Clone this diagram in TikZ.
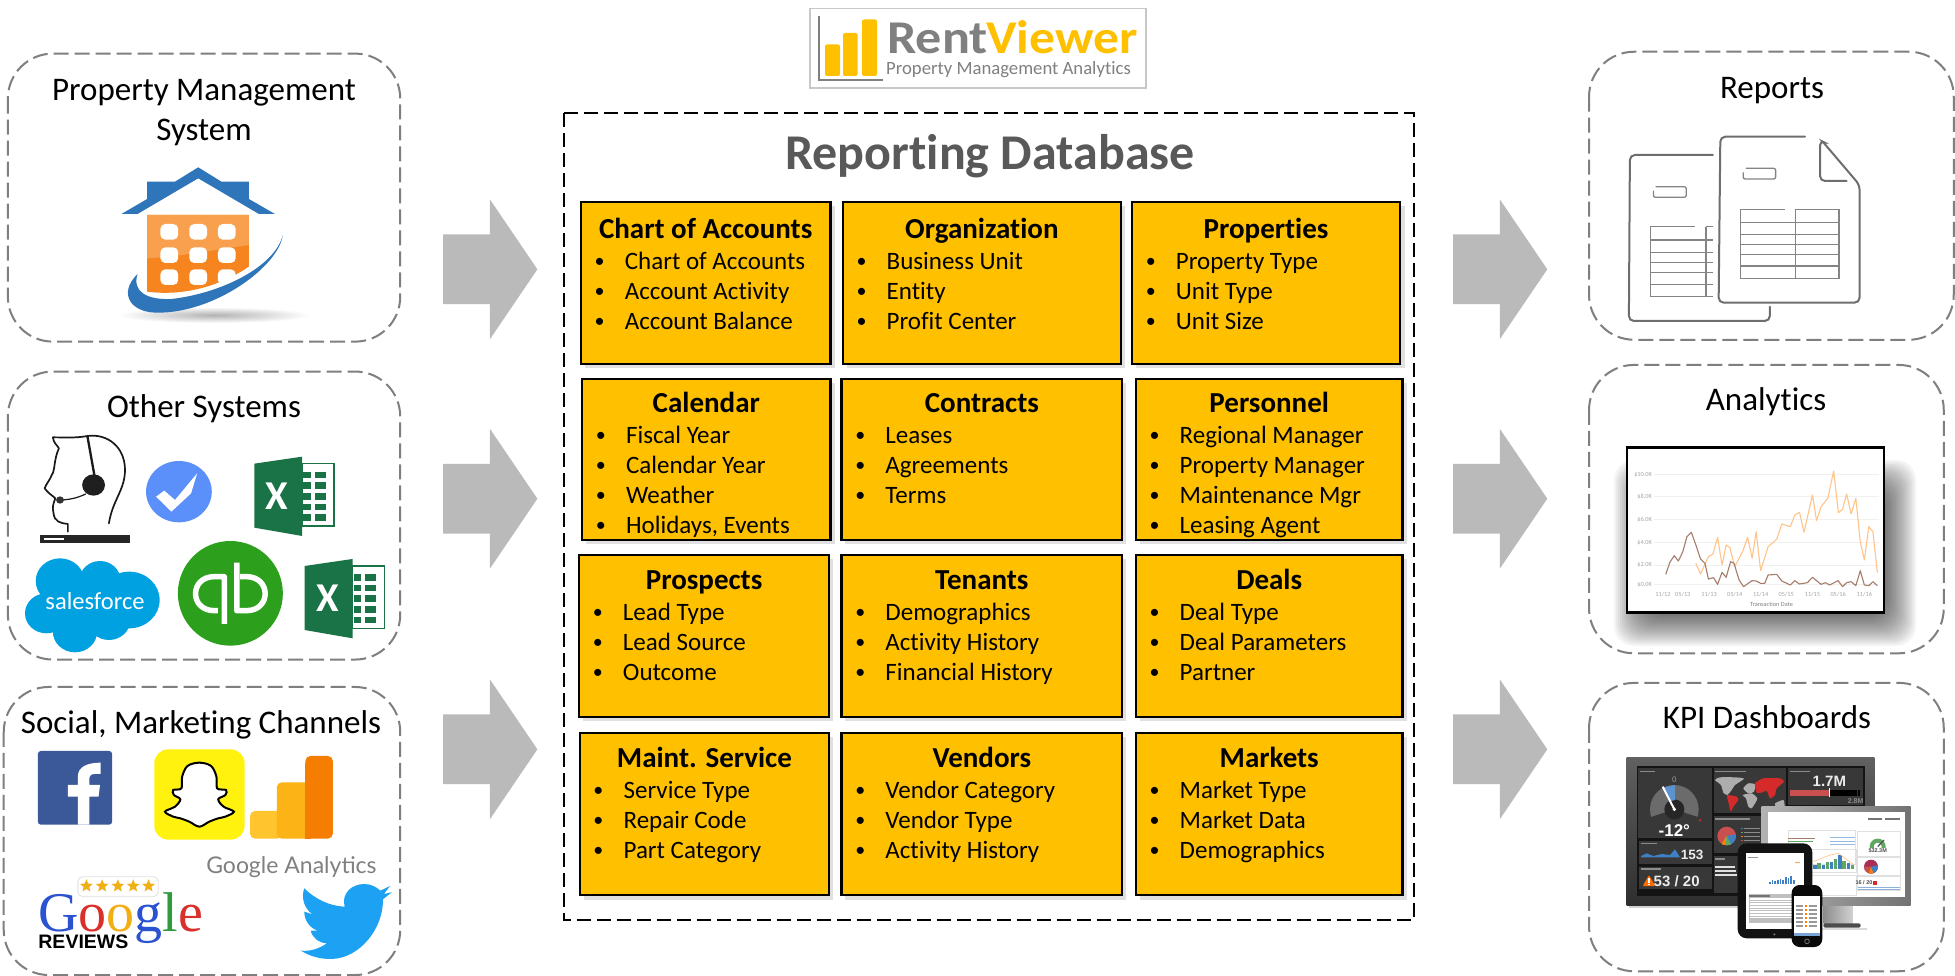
\documentclass[tikz,border=0pt]{standalone}
\usepackage{fontspec}
\setmainfont[Ligatures=NoCommon]{Carlito}
\newfontfamily\arialf{Liberation Sans}
\newfontfamily\timesf{Liberation Serif}
\newfontfamily\gaf{Lato}
\usetikzlibrary{shapes.geometric}
\definecolor{ydb}{HTML}{FFC000}
\definecolor{arrowgrey}{HTML}{BABABA}
\definecolor{dashgrey}{HTML}{7F7F7F}
\definecolor{titlegrey}{HTML}{595959}
\definecolor{logogrey}{HTML}{808080}
\definecolor{houseblue}{HTML}{2E75B9}
\definecolor{orangelt}{HTML}{F9A04F}
\definecolor{orangedk}{HTML}{F6851F}
\definecolor{exgreen}{HTML}{1A7346}
\definecolor{checkblue}{HTML}{5B8FF9}
\definecolor{sfblue}{HTML}{00A1E0}
\definecolor{qbgreen}{HTML}{2CA01C}
\definecolor{fbblue}{HTML}{3B5998}
\definecolor{snapy}{HTML}{FFF20F}
\definecolor{twblue}{HTML}{1DA1F2}
\definecolor{gablue}{HTML}{2A52D1}
\definecolor{gared}{HTML}{D9302C}
\definecolor{gayel}{HTML}{F0B015}
\definecolor{gagreen}{HTML}{2F9B3C}
\definecolor{galeft}{HTML}{FFC42E}
\definecolor{gamid}{HTML}{FBB316}
\definecolor{garight}{HTML}{F57E02}
\definecolor{chartbrown}{HTML}{A67C6B}
\definecolor{chartorange}{HTML}{FFC48A}
\definecolor{docgrey}{HTML}{6E6E6E}
\definecolor{dbblue}{HTML}{3F7FC4}
\definecolor{dbgreen}{HTML}{5FA860}
\definecolor{dbred}{HTML}{C9504F}
\definecolor{mapred}{HTML}{D42A2A}
\tikzset{
  panel/.style={draw=dashgrey,line width=2pt,dash pattern=on 15pt off 6pt,rounded corners=45pt},
  dbframe/.style={draw=black,line width=2pt,dash pattern=on 14pt off 6pt},
  blockarrow/.style={fill=arrowgrey},
  ybody/.style={draw=black,line width=2.4pt,fill=ydb},
  yshadow/.style={fill=black!12},
  headtxt/.style={anchor=base,inner sep=0pt,font=\fontsize{33}{40}\selectfont,text=black},
  ytitle/.style={anchor=base,inner sep=0pt,font=\fontsize{29}{34}\bfseries\selectfont,text=black},
  yitem/.style={anchor=base west,inner sep=0pt,font=\fontsize{25}{30}\selectfont,text=black},
  ybullet/.style={anchor=base,inner sep=0pt,font=\fontsize{20}{30}\selectfont,text=black},
  cropA/.style={x=0.35714pt,y=-0.33333pt},
  cropB/.style={shift={(1420pt,0pt)},x=0.3413pt,y=-0.33333pt},
  cropBB/.style={shift={(1420pt,-480pt)},x=0.3413pt,y=-0.33333pt},
  zoomZ/.style={shift={(1620pt,-750pt)},x=0.33333pt,y=-0.33333pt},
  shown/.style={x=1.2468pt,y=-1.2468pt},
  doc/.style={draw=docgrey,line width=2pt,rounded corners=5pt,line cap=round},
  doctab/.style={draw=docgrey!85,line width=1.3pt},
  tinylabel/.style={inner sep=0pt,font=\fontsize{6.3}{7}\selectfont,text=black!35},
  dashtxt/.style={inner sep=0pt,text=white,font=\arialf\bfseries\fontsize{13.5}{14}\selectfont},
  bpanel/.style={fill=black!78},
}
\newcommand\ybox[8]{%
  \fill[yshadow] (#2+3,#3+3) rectangle (#4+3.5,#5+3.5);
  \draw[ybody] (#2,#3) rectangle (#4,#5);
  \node[ytitle] (#1title) at ({(#2+#4)/2},#8+1) {#6};
  \foreach \itemtext [count=\i] in {#7} {
    \node[ybullet] (#1bullet\i) at (#2+15,{#8+2+24*\i}) {\raisebox{1.6pt}{•}};
    \node[yitem] (#1item\i) at (#2+35,{#8+2+24*\i}) {\itemtext};
  }%
}
\newcommand\excelicon[3]{%
  \begin{scope}[shift={(#2,#3)}]
    \fill[exgreen] (853,1698)--(987,1677)--(987,1915)--(853,1890)--cycle;
    \draw[exgreen,line width=1.3pt,fill=white] (987,1698) rectangle (1076,1885);
    \foreach \r in {1722,1754,1786,1818,1850} {
      \fill[exgreen] (990,\r) rectangle (1012,\r+20);
      \fill[exgreen] (1022,\r) rectangle (1054,\r+20);
    }
    \node[inner sep=0pt,text=white,font=\bfseries\fontsize{41}{41}\selectfont] (#1) at (917,1795) {X};
  \end{scope}%
}
\begin{document}
\begin{tikzpicture}[x=1pt,y=-1pt]
\useasboundingbox (0,0) rectangle (1955,976);
\fill[white] (0,0) rectangle (1955,976);

%%% main frames in the 1568-wide system
\begin{scope}[shown]
  \draw[panel] (6.3,43) rectangle (321,274);
  \draw[panel] (6.3,298) rectangle (321,529);
  \draw[panel] (3,551) rectangle (321,782);
  \draw[panel] (1274.5,41.5) rectangle (1567,272.5);
  \draw[panel] (1274.5,292.7) rectangle (1559,524);
  \draw[panel] (1274.5,547.7) rectangle (1559,779);

  \foreach \yy in {216,400,601} {
    \fill[blockarrow] (355.5,\yy-28)--(393,\yy-28)--(393,\yy-56)--(431,\yy)--(393,\yy+56)--(393,\yy+28)--(355.5,\yy+28)--cycle;
    \fill[blockarrow] (1165.5,\yy-28)--(1203,\yy-28)--(1203,\yy-56)--(1241,\yy)--(1203,\yy+56)--(1203,\yy+28)--(1165.5,\yy+28)--cycle;
  }

  \draw[dbframe] (452,91) rectangle (1134,738);

  \ybox{coa}{466}{162}{666}{292}{Chart of Accounts}{Chart of Accounts,Account Activity,Account Balance}{190}
  \ybox{org}{676}{162}{899}{292}{Organization}{Business Unit,Entity,Profit Center}{190}
  \ybox{prop}{908}{162}{1123}{292}{Properties}{Property Type,Unit Type,Unit Size}{190}
  \ybox{cal}{467}{304}{666}{433}{Calendar}{Fiscal Year,Calendar Year,Weather,{Holidays, Events}}{329.5}
  \ybox{con}{675}{304}{900}{433}{Contracts}{Leases,Agreements,Terms}{329.5}
  \ybox{per}{911}{304}{1125}{433}{Personnel}{Regional Manager,Property Manager,Maintenance Mgr,Leasing Agent}{329.5}
  \ybox{pro}{464.5}{445}{665}{575}{Prospects}{Lead Type,Lead Source,Outcome}{471.5}
  \ybox{ten}{675}{445}{900}{575}{Tenants}{Demographics,Activity History,Financial History}{471.5}
  \ybox{dea}{911}{445}{1125}{575}{Deals}{Deal Type,Deal Parameters,Partner}{471.5}
  \ybox{mai}{465}{588}{665}{718}{Maint. Service}{Service Type,Repair Code,Part Category}{614.5}
  \ybox{ven}{675}{588}{900}{718}{Vendors}{Vendor Category,Vendor Type,Activity History}{614.5}
  \ybox{mar}{911}{588}{1125}{718}{Markets}{Market Type,Market Data,Demographics}{614.5}
\end{scope}

%%% headings
\node[headtxt] (hpms1) at (204,100.5) {Property Management};
\node[headtxt] (hpms2) at (204,140.5) {System};
\node[headtxt] (hother) at (204,417.5) {Other Systems};
\node[headtxt] (hsocial) at (201,733) {Social, Marketing Channels};
\node[headtxt] (hreports) at (1772,98.5) {Reports};
\node[headtxt] (hanalytics) at (1766,410.5) {Analytics};
\node[headtxt] (hkpi) at (1767,728.5) {KPI Dashboards};
\node[anchor=base,inner sep=0pt,text=titlegrey,font=\fontsize{50}{56}\bfseries\selectfont] (hdb) at (990,169.5) {Reporting Database};

%%% logo
\draw[draw=black!22,line width=1.2pt,fill=white] (810,8.5) rectangle (1146,88);
\draw[logogrey,line width=1.2pt] (819,16)--(819,80)--(883,80);
\fill[ydb,rounded corners=2pt] (825,44.5) rectangle (840,76);
\fill[ydb,rounded corners=2pt] (843,33) rectangle (857.5,76);
\fill[ydb,rounded corners=2pt] (862,19.5) rectangle (877,76);
\node[anchor=base west,inner sep=0pt,text=logogrey,font=\fontsize{47}{47}\bfseries\selectfont] (logorent) at (887,54) {\scalebox{1.11}[1]{Rent}};
\node[anchor=base west,inner sep=0pt,text=ydb,font=\fontsize{47}{47}\bfseries\selectfont] (logoviewer) at (986,54) {\scalebox{1.1}[1]{Viewer}};
\node[anchor=base west,inner sep=0pt,text=logogrey,font=\fontsize{18.7}{20}\selectfont] (logosub) at (886,75) {Property Management Analytics};

%%% left column icons, in zoom-crop units
\begin{scope}[cropA]
  \shade[inner color=black!30,outer color=white] (600,945) ellipse (270 and 24);
  \fill[houseblue] (340,642)--(412,597)--(412,545)--(490,545)--(555,502)--(620,545)--(697,545)--(697,597)--(770,642)--(725,642)--(555,535)--(385,642)--cycle;
  \fill[orangedk] (412,645)--(697,645)--(697,800) .. controls (620,855) and (520,890) .. (412,875)--cycle;
  \fill[orangelt] (412,645)--(697,645)--(697,735) .. controls (600,750) and (500,770) .. (412,775)--cycle;
  \foreach \cx in {449,530,610} \foreach \cy in {672,742,808}
    \fill[white,rounded corners=5pt] (\cx,\cy) rectangle (\cx+50,\cy+47);
  \fill[white] (660,830) -- (720,830) -- (720,775) -- (697,800) -- cycle;
  \fill[houseblue] (792,705) .. controls (780,800) and (600,940) .. (440,938) .. controls (365,938) and (330,880) .. (385,822) .. controls (370,875) and (410,900) .. (480,897) .. controls (620,880) and (770,800) .. (792,705) -- cycle;

  \begin{scope}[line width=1.7pt,draw=black!90,line cap=round,line join=round]
    \draw (245,1308) .. controls (300,1300) and (350,1340) .. (350,1410) .. controls (350,1470) and (315,1500) .. (305,1570);
    \draw (245,1308) .. controls (210,1315) and (175,1312) .. (148,1312) .. controls (150,1330) and (160,1335) .. (165,1345) .. controls (150,1380) and (155,1410) .. (145,1425) .. controls (140,1440) and (130,1450) .. (125,1465) .. controls (135,1480) and (145,1485) .. (155,1495) .. controls (150,1510) and (145,1520) .. (150,1540) .. controls (152,1565) and (170,1570) .. (190,1572) -- (190,1595);
    \draw[line width=2.3pt] (245,1310) -- (265,1430);
    \draw[line width=1.2pt] (240,1482) .. controls (215,1495) and (190,1500) .. (165,1500);
  \end{scope}
  \fill[black!88] (262,1455) circle (32);
  \fill[black!80] (168,1500) circle (11);
  \fill[black!85] (112,1605) rectangle (364,1628);
  \fill[white] (122,1614) rectangle (178,1620);

  \fill[checkblue] (501,1475) circle (92);
  \fill[white] (437,1490)--(460,1472)--(490,1500)--(552,1420)--(535,1480)--(480,1535)--cycle;

  \excelicon{xl1}{-141}{-307}
  \excelicon{xl2}{0}{0}

  \fill[sfblue] (168,1743) circle (68);
  \fill[sfblue] (280,1740) circle (57);
  \fill[sfblue] (362,1800) circle (85);
  \fill[sfblue] (130,1840) circle (60);
  \fill[sfblue] (210,1895) circle (62);
  \fill[sfblue] (305,1860) circle (60);
  \fill[sfblue] (160,1760) rectangle (340,1880);
  \node[inner sep=0pt,text=white,font=\fontsize{24.5}{25}\selectfont] (sf) at (266,1803) {salesforce};

  \fill[qbgreen] (645,1780) circle (147 and 157);
  \begin{scope}[draw=white,line width=5.5pt,line join=round]
    \draw (610,1832) -- (600,1832) .. controls (530,1832) and (530,1730) .. (600,1730) -- (628,1730) -- (628,1872);
    \draw (663,1688) -- (663,1832) -- (690,1832) .. controls (760,1832) and (760,1730) .. (690,1730) -- (672,1730);
  \end{scope}

  \fill[fbblue,rounded corners=3pt] (106,2253) rectangle (314,2474);
  \fill[white] (218,2474)--(218,2390)--(190,2390)--(190,2355)--(218,2355)--(218,2330) .. controls (218,2300) and (245,2288) .. (282,2288)--(282,2322)--(265,2322) .. controls (252,2322) and (250,2330) .. (250,2340)--(250,2355)--(280,2355)--(276,2390)--(250,2390)--(250,2474)--cycle;

  \fill[snapy,rounded corners=14pt] (432,2248) rectangle (685,2519);
  \draw[black,fill=white,line width=2pt] plot[smooth cycle,tension=.55] coordinates {(558,2288)(525,2298)(510,2330)(508,2365)(485,2370)(487,2385)(505,2398)(490,2420)(462,2435)(485,2450)(505,2455)(530,2465)(558,2480)(586,2465)(611,2455)(631,2450)(655,2435)(626,2420)(611,2398)(631,2385)(633,2370)(608,2365)(606,2330)(591,2298)};

  \fill[galeft,rounded corners=5pt] (700,2433) rectangle (790,2516);
  \fill[gamid,rounded corners=5pt] (775,2347) rectangle (870,2516);
  \fill[garight,rounded corners=5pt] (855,2268) rectangle (932,2516);
  \fill[garight] (855,2290) rectangle (870,2516);
  \node[anchor=base,inner sep=0pt,text=black!50,font=\gaf\fontsize{23}{24}\selectfont] (ga) at (816,2622) {Google Analytics};

  \draw[draw=black!12,fill=white,rounded corners=5pt,line width=.8pt] (218,2630) rectangle (443,2690);
  \foreach \sx [count=\si] in {242,286,330,373,416}
    \node[star,star points=5,star point ratio=2.3,fill=gayel,inner sep=0pt,minimum size=13.5pt] (star\si) at (\sx,2658) {};
  \node[anchor=base west,inner sep=0pt,font=\timesf\fontsize{56}{56}\selectfont] (google) at (107,2795) {\textcolor{gablue}{G}\textcolor{gared}{o}\textcolor{gayel}{o}\textcolor{gablue}{g}\textcolor{gagreen}{l}\textcolor{gared}{e}};
  \node[anchor=base west,inner sep=0pt,font=\arialf\bfseries\fontsize{19.5}{20}\selectfont,text=black] (reviews) at (107,2845) {REVIEWS};

  \fill[twblue] (1020,2652) .. controls (1040,2652) and (1055,2662) .. (1065,2672) -- (1092,2658) -- (1075,2682) -- (1097,2677) -- (1072,2698) .. controls (1075,2780) and (1010,2877) .. (925,2877) .. controls (895,2877) and (865,2868) .. (843,2852) .. controls (870,2855) and (895,2845) .. (915,2830) .. controls (895,2830) and (875,2815) .. (870,2792) -- (890,2792) .. controls (868,2785) and (852,2762) .. (852,2735) -- (875,2743) .. controls (850,2725) and (843,2690) .. (852,2665) .. controls (880,2695) and (920,2718) .. (965,2720) .. controls (955,2680) and (985,2652) .. (1020,2652) -- cycle;
\end{scope}

%%% reports icon
\begin{scope}[cropB]
  \draw[doc] (858,465) -- (615,465) -- (612,963) -- (1025,963) -- (1025,920);
  \draw[doctab,rounded corners=2pt] (690,560) -- (780,560) -- (780,592) -- (684,592) -- (684,572);
  \draw[doctab] (805,680) -- (675,680) -- (675,890) -- (858,890);
  \draw[doctab] (838,680) -- (838,890);
  \draw[doctab] (838,680) -- (858,680);
  \foreach \ty in {720,757,787,817,853} \draw[doctab] (675,\ty) -- (858,\ty);

  \draw[doc] (1128,410) -- (880,410) -- (875,908) -- (1288,908) -- (1288,555) [sharp corners] -- (1180,425) [rounded corners=5pt] -- (1172,421) -- (1172,543) -- (1250,543);
  \draw[doctab,rounded corners=2pt] (955,505) -- (1042,505) -- (1042,537) -- (947,537) -- (947,517);
  \draw[doctab] (1068,628) -- (940,628) -- (940,835) -- (1228,835) -- (1228,628) -- (1100,628) -- (1100,835);
  \foreach \ty in {667,703,733,763,798} \draw[doctab] (940,\ty) -- (1228,\ty);
\end{scope}

%%% analytics chart
\foreach \k in {0,...,20}
  \fill[black,opacity=.045,rounded corners=20pt] ({1640-26+2*\k},{486-26+2*\k}) rectangle ({1890+26-2*\k},{620+26-2*\k});
\begin{scope}[cropBB]
  \draw[black,line width=2.4pt,fill=white] (607,-98) rectangle (1360,398);
  \foreach \gy/\gl [count=\gi] in {-17/{\$10.0K},50/{\$8.0K},118/{\$6.0K},187/{\$4.0K},255/{\$2.0K},313/{\$0.0K}} {
    \draw[black!6,line width=.6pt] (685,\gy) -- (1345,\gy);
    \node[tinylabel,anchor=east] (gl\gi) at (680,\gy) {\gl};
  }
  \node[tinylabel] (d1) at (712,343) {11/12};
  \node[tinylabel] (d2) at (770,343) {05/13};
  \node[tinylabel] (d3) at (847,343) {11/13};
  \node[tinylabel] (d4) at (922,343) {05/14};
  \node[tinylabel] (d5) at (998,343) {11/14};
  \node[tinylabel] (d6) at (1073,343) {05/15};
  \node[tinylabel] (d7) at (1150,343) {11/15};
  \node[tinylabel] (d8) at (1225,343) {05/16};
  \node[tinylabel] (d9) at (1302,343) {11/16};
  \node[tinylabel,text=black!50] (dtitle) at (1030,372) {Transaction Date};
  \draw[chartorange,line width=1.1pt,line join=round] (808,250)--(822,282)--(845,230)--(858,222)--(872,172)--(885,255)--(897,195)--(908,203)--(922,260)--(945,215)--(960,172)--(973,235)--(985,155)--(998,272)--(1020,200)--(1045,178)--(1060,132)--(1085,140)--(1098,105)--(1112,97)--(1125,157)--(1150,45)--(1162,122)--(1175,80)--(1195,55)--(1212,-27)--(1226,98)--(1238,88)--(1250,42)--(1263,102)--(1277,55)--(1290,185)--(1302,240)--(1315,140)--(1327,155)--(1340,278);
  \draw[chartbrown,line width=1.1pt,line join=round] (720,283)--(732,247)--(745,227)--(757,243)--(770,215)--(782,170)--(795,157)--(810,200)--(822,237)--(835,250)--(845,297)--(860,293)--(872,313)--(885,277)--(897,292)--(910,245)--(920,250)--(935,300)--(948,320)--(973,302)--(985,303)--(998,310)--(1010,310)--(1020,285)--(1045,283)--(1060,303)--(1085,315)--(1098,302)--(1112,312)--(1135,308)--(1150,292)--(1175,313)--(1188,308)--(1200,315)--(1225,302)--(1238,320)--(1250,308)--(1263,305)--(1277,317)--(1290,272)--(1302,315)--(1315,317)--(1327,305)--(1340,317);
\end{scope}

%%% dashboard devices, in units of a 3x crop from (1620,750)
\begin{scope}[zoomZ]
  % wall monitor
  \fill[black!18] (26,467) rectangle (600,473);
  \shade[top color=black!62,bottom color=black!82] (20,22) rectangle (763,467);
  \fill[black!92] (50,48) rectangle (735,437);
  \fill[bpanel] (55,55) rectangle (275,265);
  \fill[bpanel] (282,55) rectangle (498,190);
  \fill[bpanel] (505,55) rectangle (728,165);
  \fill[bpanel] (282,197) rectangle (430,310);
  \fill[bpanel] (57,272) rectangle (275,342);
  \fill[bpanel] (57,350) rectangle (275,417);
  \fill[bpanel] (282,318) rectangle (360,430);
  \foreach \bx/\by/\bw in {60/63/45,286/63/92,286/205/105,62/279/50,62/355/60,286/325/30,510/63/60}
    \fill[black!45] (\bx,\by) rectangle (\bx+\bw,\by+4);
  % gauge
  \fill[black!58] (163,178) circle (73);
  \fill[black!78] (60,212) -- (163,178) -- (266,212) -- (266,262) -- (60,262) -- cycle;
  \fill[black!85] (163,178) circle (30);
  \fill[dbblue!85!white] (132,112) -- (165,105) -- (165,150) -- (150,154) -- cycle;
  \draw[white,line width=2pt] (128,110) -- (163,178);
  \fill[white] (163,178) circle (5.5);
  \node[inner sep=0pt,text=black!40,font=\arialf\fontsize{8}{8}\selectfont] (g0) at (163,90) {0};
  \node[dashtxt,font=\arialf\bfseries\fontsize{17}{18}\selectfont] (gdeg) at (163,242) {-12°};
  \fill[mapred] (240,211) circle (4);
  % spark
  \fill[dbblue] (63,318) -- (80,310) -- (100,318) -- (125,312) -- (150,315) -- (165,298) -- (180,322) -- (63,322) -- cycle;
  \node[dashtxt,text=black!8] (d153) at (216,315) {153};
  \fill[orange!85!red,rounded corners=1pt] (68,408) -- (87,375) -- (106,408) -- cycle;
  \fill[white] (85,385) rectangle (89,398);
  \fill[white] (85,401) rectangle (89,405);
  \node[dashtxt,text=black!8,font=\arialf\bfseries\fontsize{15}{16}\selectfont] (d53) at (170,393) {53 / 20};
  % map
  \fill[black!32] plot[smooth cycle,tension=.35] coordinates {(285,90)(300,82)(345,82)(372,86)(345,105)(335,120)(322,135)(310,128)(303,105)};
  \fill[black!32] plot[smooth cycle,tension=.35] coordinates {(370,115)(385,100)(405,103)(402,125)(385,130)};
  \fill[black!32] plot[smooth cycle,tension=.35] coordinates {(368,135)(395,130)(412,145)(405,160)(395,175)(385,170)(378,145)};
  \fill[black!32] plot[smooth cycle,tension=.35] coordinates {(465,160)(490,150)(493,170)(470,172)};
  \fill[mapred] plot[smooth cycle,tension=.35] coordinates {(322,135)(350,140)(355,150)(340,170)(332,185)(326,160)(322,145)};
  \fill[mapred] plot[smooth cycle,tension=.35] coordinates {(405,100)(430,85)(480,85)(492,95)(470,115)(465,135)(450,145)(440,122)(428,127)(410,128)};
  % pie
  \begin{scope}
    \clip (320,258) circle (28);
    \fill[dbred] (290,228) rectangle (350,288);
    \fill[dbblue] (320,258) -- (352,252) -- (352,280) -- (328,290) -- cycle;
    \fill[dbgreen] (320,258) -- (338,292) -- (300,292) -- cycle;
    \fill[orange] (320,258) -- (314,292) -- (298,292) -- cycle;
  \end{scope}
  \foreach \ly/\lc in {233/dbblue,245/dbgreen,257/orange,269/dbred} {
    \fill[\lc] (362,\ly) rectangle (368,\ly+5);
    \fill[black!45] (372,\ly+1) rectangle (420,\ly+4);
  }
  % news panel
  \foreach \ty/\tw in {347/60,360/62,373/64} \fill[black!12] (286,\ty) rectangle (286+\tw,\ty+6);
  % 1.7M
  \node[dashtxt,text=black!8,font=\arialf\bfseries\fontsize{15}{16}\selectfont] (d17) at (628,95) {1.7M};
  \fill[dbred] (510,120) rectangle (628,138);
  \fill[white] (628,115) rectangle (631,140);
  \fill[black] (631,120) rectangle (712,138);
  \fill[black] (715,120) rectangle (720,138);
  \node[inner sep=0pt,text=black!45,font=\arialf\bfseries\fontsize{7}{8}\selectfont] (d28) at (707,153) {2.8M};
  % desktop
  \fill[black!15] (590,533) rectangle (740,540);
  \shade[left color=black!45,right color=black!18] (610,465) rectangle (698,520);
  \fill[black!70,rounded corners=2pt] (610,520) rectangle (722,533);
  \shade[left color=black!30,right color=black!55] (425,170) rectangle (872,465);
  \fill[white] (445,187) rectangle (855,440);
  \foreach \fx/\fy/\fw/\fh in {505/240/200/102,712/243/130/75,712/322/130/55,712/380/130/40,505/298/205/70,505/375/205/60}
    \draw[black!12,line width=.5pt] (\fx,\fy) rectangle (\fx+\fw,\fy+\fh);
  \fill[black!55] (745,205) rectangle (785,209);
  \fill[black!55] (795,205) rectangle (840,209);
  \fill[chartbrown] (505,263) rectangle (585,267);
  \fill[dbgreen] (505,272) rectangle (580,276);
  \foreach \ty in {262,272,282} \fill[dbblue!55!white] (630,\ty) rectangle (705,\ty+2);
  \foreach \bx/\bh/\bc in {580/12/dbblue,592/18/dbgreen,605/14/dbblue,617/22/dbgreen,630/22/dbblue,642/30/dbgreen,655/42/dbblue,667/25/dbgreen,680/20/dbblue,692/12/dbgreen}
    \fill[\bc] (\bx,358) rectangle (\bx+10,358-\bh);
  \draw[orange!50!white,line width=.6pt] (580,335) -- (630,315) -- (655,310) -- (702,345);
  \begin{scope}
    \clip (745,260) rectangle (800,292);
    \draw[dbgreen,line width=4pt] (773,290) circle (18);
  \end{scope}
  \draw[black!70,line width=1.1pt] (773,290) -- (792,270);
  \node[inner sep=0pt,font=\arialf\bfseries\fontsize{5.5}{6}\selectfont,text=black!70] (d32) at (773,303) {\$32.3M};
  \fill[purple!65!gray] (753,350) circle (21);
  \begin{scope}
    \clip (753,350) circle (21);
    \fill[dbred] (753,350) -- (730,350) -- (730,375) -- (745,375) -- cycle;
    \fill[dbblue] (753,350) -- (745,375) -- (780,375) -- (778,345) -- cycle;
    \fill[orange] (753,350) -- (745,375) -- (762,375) -- cycle;
  \end{scope}
  \node[inner sep=0pt,font=\arialf\bfseries\fontsize{5.5}{6}\selectfont,text=black!70] (d16) at (732,399) {16 / 20};
  \fill[mapred] (760,393) rectangle (770,405);
  \foreach \ty in {411,417} \fill[dbblue!60!white] (715,\ty) rectangle (840,\ty+2);
  % tablet
  \fill[black!93,rounded corners=9pt] (353,280) rectangle (577,565);
  \fill[white] (378,310) rectangle (553,538);
  \fill[black!40] (385,320) rectangle (415,324);
  \fill[orange!70!white] (525,335) rectangle (540,339);
  \foreach \bx/\bh in {447/8,455/14,463/10,471/12,479/16,487/13,495/22,503/18,511/24,519/14}
    \fill[dbblue] (\bx,403) rectangle (\bx+5,403-\bh);
  \fill[black!25] (388,432) rectangle (545,520);
  \fill[black!55] (388,434) rectangle (450,440);
  \foreach \ty in {444,452,460,468,476,484,492,500} \fill[white] (390,\ty) rectangle (543,\ty+5);
  \fill[black!55] (463,553) circle (3.5);
  % phone
  \fill[black!96,rounded corners=8pt] (515,405) rectangle (607,591);
  \fill[white] (522,438) rectangle (600,558);
  \foreach \ty in {466,478,490,502,514,526} {
    \fill[black!40] (528,\ty) rectangle (548,\ty+4);
    \fill[orange] (554,\ty) rectangle (560,\ty+4);
    \fill[black!40] (568,\ty) rectangle (592,\ty+4);
  }
  \fill[dbblue!70!white] (522,548) rectangle (600,558);
  \draw[black!55,line width=.8pt] (561,574) circle (7);
\end{scope}
\end{tikzpicture}
\end{document}
